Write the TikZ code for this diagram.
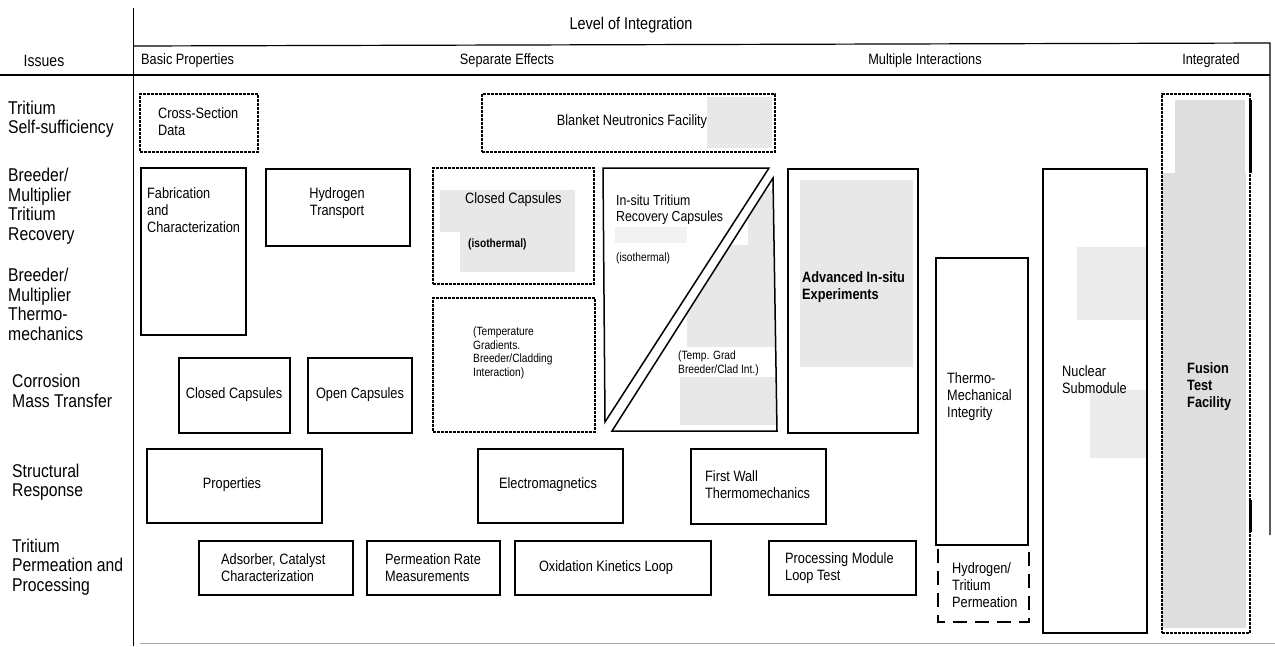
\documentclass[tikz,border=0pt]{standalone}
\usepackage{fontspec}
\setmainfont{Liberation Sans}[FakeStretch=0.85]
\newcommand\boxfont{\fontsize{15}{17}\selectfont}
\newcommand\smallfont{\fontsize{12}{13.5}\selectfont}
\newcommand\labfont{\fontsize{18.5}{19.5}\selectfont}
\newcommand\headfont{\fontsize{15}{17}\selectfont}
\newcommand\midfont{\fontsize{14.5}{16}\selectfont}
\begin{document}
\begin{tikzpicture}[x=1pt,y=-1pt,
  box/.style={draw, line width=1.5pt, inner sep=0pt, anchor=north west},
  roughbox/.style={box, dash pattern=on 3pt off 1pt},
  txt/.style={inner sep=0pt, font=\boxfont, align=left, anchor=west},
  ctxt/.style={inner sep=0pt, font=\boxfont, align=center, anchor=center},
  lab/.style={inner sep=0pt, font=\labfont, align=left, anchor=west},
  head/.style={inner sep=0pt, font=\headfont, anchor=center},
  stip/.style={fill=black!9},
  rule/.style={line width=1.2pt}]
\useasboundingbox (0,0) rectangle (1275,646);
\fill[white] (0,0) rectangle (1275,646);

% ---------- frame ----------
\coordinate (vT) at (133,8);
\coordinate (vB) at (133,646);
\coordinate (tL) at (133,46);
\coordinate (tR) at (1270,43);
\coordinate (hL) at (0,75);
\coordinate (hR) at (1270,75);
\coordinate (rB) at (1270,535);
\coordinate (bL) at (140,643);
\coordinate (bR) at (1275,643);
\draw[line width=1pt] (vT) -- (vB);
\draw[rule] (tL) -- (tR) -- (rB);
\draw[rule] (hL) -- (hR);
\draw[line width=1pt, black!35] (bL) -- (bR);

% ---------- header ----------
\node[head, font=\fontsize{17}{19}\selectfont] (lvl) at (631,25) {Level of Integration};
\node[head, font=\fontsize{16.5}{18}\selectfont] (iss) at (44,61) {Issues};
\node[head, anchor=west] (bp) at (141,61) {Basic Properties};
\node[head] (se) at (507,61) {Separate Effects};
\node[head] (mi) at (925,61) {Multiple Interactions};
\node[head] (intg) at (1211,61) {Integrated};

% ---------- issue labels ----------
\node[lab] (l1) at (8,119) {Tritium\\Self-sufficiency};
\node[lab] (l2) at (8,206) {Breeder/\\Multiplier\\Tritium\\Recovery};
\node[lab] (l3) at (8,304.5) {Breeder/\\Multiplier\\Thermo-\\mechanics};
\node[lab] (l4) at (12,391) {Corrosion\\Mass Transfer};
\node[lab] (l5) at (12,482) {Structural\\Response};
\node[lab] (l6) at (12,567) {Tritium\\Permeation and\\Processing};

% ---------- stippled areas ----------
\fill[stip] (707,97) rectangle (772,148);
\fill[stip] (440,190) -- (575,190) -- (575,272) -- (460,272) -- (460,232) -- (440,232) -- cycle;
\fill[black!5] (615,227) rectangle (687,243);
\coordinate (isA) at (603,168);
\coordinate (isB) at (769,168);
\coordinate (isC) at (605,422);
\coordinate (isD) at (773,178);
\coordinate (isE) at (777,431);
\coordinate (isF) at (612,431);
\begin{scope}
  \clip (isD) -- (isE) -- (isF) -- cycle;
  \fill[stip] (748,190) rectangle (778,245);
  \fill[stip] (687,245) rectangle (778,347);
  \fill[stip] (680,377) rectangle (778,425);
\end{scope}
\fill[stip] (800,180) rectangle (913,367);
\fill[black!8] (1077,247) rectangle (1147,320);
\fill[black!8] (1090,390) rectangle (1147,458);
\fill[black!13] (1175,100) rectangle (1245,173);
\fill[black!13] (1163,173) rectangle (1246,628);

% ---------- boxes ----------
\node[roughbox, minimum width=118pt, minimum height=58pt] (cs) at (139,93) {};
\node[roughbox, minimum width=293pt, minimum height=58pt] (bn) at (481,93) {};
\node[box, minimum width=105pt, minimum height=167pt] (fab) at (140,167) {};
\node[box, minimum width=144pt, minimum height=77pt] (ht) at (265,168) {};
\node[roughbox, minimum width=161pt, minimum height=116pt] (cci) at (432,167) {};
\node[roughbox, minimum width=162pt, minimum height=134pt] (tg) at (432,297) {};
\draw[line width=1.5pt] (isA) -- (isB) -- (isC) -- cycle;
\draw[line width=1.5pt] (isD) -- (isE) -- (isF) -- cycle;
\node[box, minimum width=130pt, minimum height=264pt] (adv) at (787,168) {};
\node[box, minimum width=92pt, minimum height=287pt] (tmi) at (935,257) {};
\coordinate (hpA) at (938,549);
\coordinate (hpB) at (938,622);
\coordinate (hpC) at (1029,622);
\coordinate (hpD) at (1029,549);
\draw[line width=1.5pt, dash pattern=on 14pt off 8pt] (hpA) -- (hpB) -- (hpC) -- (hpD);
\node[box, minimum width=104pt, minimum height=464pt] (ns) at (1042,168) {};
\node[roughbox, minimum width=88pt, minimum height=539pt] (ftf) at (1161,93) {};
\coordinate (fe1) at (1250,100);
\coordinate (fe2) at (1250,173);
\coordinate (fe3) at (1250,500);
\coordinate (fe4) at (1250,532);
\draw[line width=3pt] (fe1) -- (fe2);
\draw[line width=3pt] (fe3) -- (fe4);
\node[box, minimum width=111pt, minimum height=75pt] (ccc) at (178,357) {};
\node[box, minimum width=104pt, minimum height=75pt] (oc) at (307,357) {};
\node[box, minimum width=175pt, minimum height=74pt] (prop) at (146,448) {};
\node[box, minimum width=145pt, minimum height=74pt] (em) at (477,448) {};
\node[box, minimum width=135pt, minimum height=75pt] (fw) at (690,448) {};
\node[box, minimum width=154pt, minimum height=54pt] (ads) at (198,540) {};
\node[box, minimum width=133pt, minimum height=54pt] (prm) at (366,540) {};
\node[box, minimum width=196pt, minimum height=54pt] (ox) at (514,540) {};
\node[box, minimum width=147pt, minimum height=54pt] (pml) at (768,540) {};

% ---------- box texts ----------
\node[txt] (tcs) at (158,121.5) {Cross-Section\\Data};
\node[ctxt] (tbn) at (632,122) {Blanket Neutronics Facility};
\node[txt] (tfab) at (147,210) {Fabrication\\and\\Characterization};
\node[ctxt] (tht) at (337,203.5) {Hydrogen\\Transport};
\node[txt] (tcci) at (465,200) {Closed Capsules};
\node[txt, font=\smallfont\bfseries] (tcci2) at (468,244) {(isothermal)};
\node[txt, font=\smallfont] (ttg) at (473,353) {(Temperature\\Gradients.\\Breeder/Cladding\\Interaction)};
\node[txt, font=\midfont] (tis) at (616,209.5) {In-situ Tritium\\Recovery Capsules};
\node[txt, font=\smallfont] (tis2) at (616,258) {(isothermal)};
\node[txt, font=\smallfont] (tis3) at (678,363.5) {(Temp. Grad\\Breeder/Clad Int.)};
\node[txt, font=\boxfont\bfseries] (tadv) at (802,287) {Advanced In-situ\\Experiments};
\node[txt] (ttmi) at (947,397) {Thermo-\\Mechanical\\Integrity};
\node[txt] (thtp) at (952,585) {Hydrogen/\\Tritium\\Permeation};
\node[txt] (tns) at (1062,379.5) {Nuclear\\Submodule};
\node[txt, font=\boxfont\bfseries] (tftf) at (1187,387) {Fusion\\Test\\Facility};
\node[ctxt] (tccc) at (234,395) {Closed Capsules};
\node[ctxt] (toc) at (360,395) {Open Capsules};
\node[ctxt] (tprop) at (232,485) {Properties};
\node[ctxt] (tem) at (548,485) {Electromagnetics};
\node[txt] (tfw) at (705,485) {First Wall\\Thermomechanics};
\node[txt] (tads) at (221,567.5) {Adsorber, Catalyst\\Characterization};
\node[txt] (tprm) at (385,567.5) {Permeation Rate\\Measurements};
\node[ctxt] (tox) at (606,568) {Oxidation Kinetics Loop};
\node[txt] (tpml) at (785,568.5) {Processing Module\\Loop Test};
\end{tikzpicture}
\end{document}
